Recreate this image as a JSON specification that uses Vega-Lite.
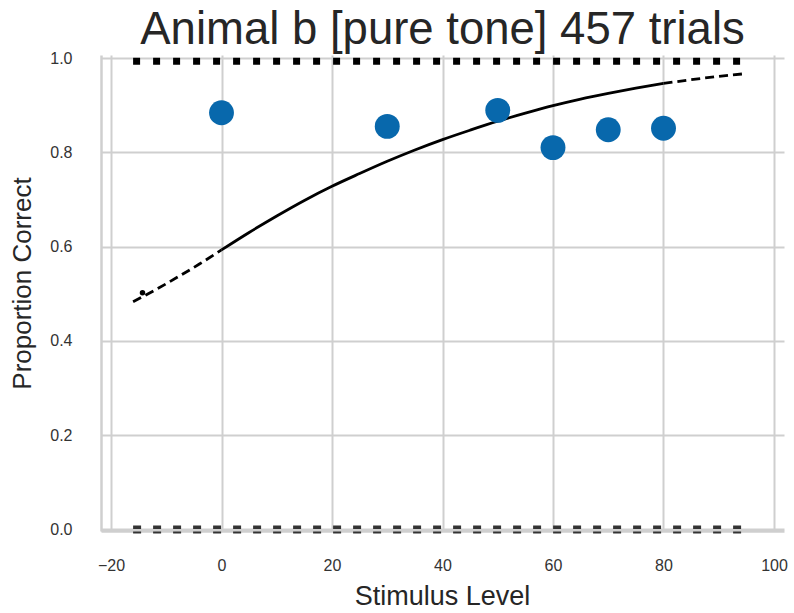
{
  "$schema": "https://vega.github.io/schema/vega-lite/v6.json",
  "width": 683,
  "height": 476,
  "autosize": {"type": "none"},
  "padding": {"left": 101, "top": 55, "right": 10, "bottom": 82},
  "background": "white",
  "title": {
    "text": "Animal b [pure tone] 457 trials",
    "font": "Liberation Sans",
    "fontSize": 45.5,
    "fontWeight": "normal",
    "color": "#262626",
    "anchor": "middle",
    "frame": "group",
    "baseline": "alphabetic",
    "offset": 0,
    "dy": 42
  },
  "config": {
    "view": {"stroke": null},
    "axis": {
      "labelFont": "Liberation Sans",
      "titleFont": "Liberation Sans",
      "labelColor": "#333333",
      "titleColor": "#262626",
      "titleFontWeight": "normal",
      "gridColor": "#cfcfcf",
      "gridWidth": 2,
      "domainColor": "#cfcfcf",
      "domainWidth": 2.5,
      "ticks": false
    }
  },
  "datasets": {
    "points": [
      {"level": 0, "prop": 0.884},
      {"level": 30, "prop": 0.855},
      {"level": 50, "prop": 0.889},
      {"level": 60, "prop": 0.81},
      {"level": 70, "prop": 0.848},
      {"level": 80, "prop": 0.851}
    ],
    "curve": [
      {"seg": "lo", "level": -16, "prop": 0.483},
      {"seg": "lo", "level": -12, "prop": 0.508},
      {"seg": "lo", "level": -8, "prop": 0.535},
      {"seg": "lo", "level": -4, "prop": 0.563},
      {"seg": "lo", "level": 0, "prop": 0.593},
      {"seg": "fit", "level": 0, "prop": 0.593},
      {"seg": "fit", "level": 5, "prop": 0.63},
      {"seg": "fit", "level": 10, "prop": 0.665},
      {"seg": "fit", "level": 15, "prop": 0.698},
      {"seg": "fit", "level": 20, "prop": 0.728},
      {"seg": "fit", "level": 25, "prop": 0.755},
      {"seg": "fit", "level": 30, "prop": 0.781},
      {"seg": "fit", "level": 35, "prop": 0.805},
      {"seg": "fit", "level": 40, "prop": 0.827},
      {"seg": "fit", "level": 45, "prop": 0.847},
      {"seg": "fit", "level": 50, "prop": 0.866},
      {"seg": "fit", "level": 55, "prop": 0.883},
      {"seg": "fit", "level": 60, "prop": 0.899},
      {"seg": "fit", "level": 65, "prop": 0.913},
      {"seg": "fit", "level": 70, "prop": 0.925},
      {"seg": "fit", "level": 75, "prop": 0.936},
      {"seg": "fit", "level": 80, "prop": 0.946},
      {"seg": "hi", "level": 80, "prop": 0.946},
      {"seg": "hi", "level": 85, "prop": 0.954},
      {"seg": "hi", "level": 90, "prop": 0.961},
      {"seg": "hi", "level": 95, "prop": 0.967}
    ],
    "threshold": [
      {"level": -14.3, "prop": 0.502}
    ],
    "guides": [
      {"line": "top", "level": -16, "prop": 0.993},
      {"line": "top", "level": 95, "prop": 0.993},
      {"line": "bottom", "level": -16, "prop": 0.0},
      {"line": "bottom", "level": 95, "prop": 0.0}
    ],
    "spine": [
      {"prop": -0.0018}
    ]
  },
  "encoding": {
    "x": {
      "field": "level",
      "type": "quantitative",
      "scale": {"domain": [-21.81, 101.81], "nice": false, "zero": false},
      "axis": {
        "values": [-20, 0, 20, 40, 60, 80, 100],
        "title": "Stimulus Level",
        "titleFontSize": 27,
        "labelFontSize": 16,
        "labelPadding": 26,
        "titleX": 341,
        "titleY": 73,
        "titleBaseline": "alphabetic",
        "titleAnchor": null
      }
    },
    "y": {
      "field": "prop",
      "type": "quantitative",
      "scale": {"domain": [-0.0032, 1.0064], "nice": false, "zero": false},
      "axis": {
        "values": [0, 0.2, 0.4, 0.6, 0.8, 1.0],
        "format": ".1f",
        "title": "Proportion Correct",
        "titleFontSize": 26,
        "labelFontSize": 16,
        "labelPadding": 29,
        "titleX": -79,
        "titleY": 228,
        "titleAngle": -90,
        "titleBaseline": "middle",
        "titleAnchor": null
      }
    }
  },
  "layer": [
    {
      "data": {"name": "guides"},
      "transform": [{"filter": "datum.line === 'bottom'"}],
      "mark": {"type": "line", "color": "#333333", "strokeWidth": 8, "strokeDash": [8, 12], "strokeCap": "butt"}
    },
    {
      "data": {"name": "guides"},
      "transform": [{"filter": "datum.line === 'top'"}],
      "mark": {"type": "line", "color": "#000000", "strokeWidth": 7, "strokeDash": [7, 13], "strokeCap": "butt"}
    },
    {
      "data": {"name": "spine"},
      "mark": {"type": "rule", "color": "#cfcfcf", "strokeWidth": 2.5},
      "encoding": {"x": null}
    },
    {
      "data": {"name": "curve"},
      "transform": [{"filter": "datum.seg === 'lo'"}],
      "mark": {"type": "line", "color": "#000000", "strokeWidth": 2.8, "strokeDash": [9, 5], "interpolate": "monotone"}
    },
    {
      "data": {"name": "curve"},
      "transform": [{"filter": "datum.seg === 'fit'"}],
      "mark": {"type": "line", "color": "#000000", "strokeWidth": 2.8, "interpolate": "monotone"}
    },
    {
      "data": {"name": "curve"},
      "transform": [{"filter": "datum.seg === 'hi'"}],
      "mark": {"type": "line", "color": "#000000", "strokeWidth": 2.8, "strokeDash": [9, 5], "interpolate": "monotone"}
    },
    {
      "data": {"name": "threshold"},
      "mark": {"type": "circle", "color": "#000000", "size": 30, "opacity": 1}
    },
    {
      "data": {"name": "points"},
      "mark": {"type": "circle", "color": "#0868ac", "size": 620, "opacity": 1}
    }
  ]
}
